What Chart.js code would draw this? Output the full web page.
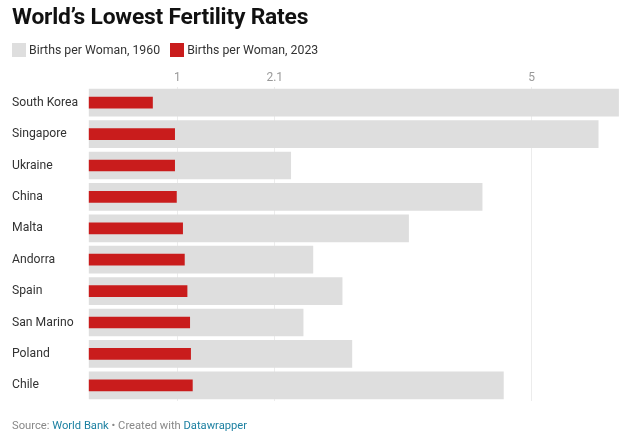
<!DOCTYPE html>
<html>
<head>
<meta charset="utf-8">
<script src="https://cdn.jsdelivr.net/npm/chart.js@4"></script>
<style>
  html, body { margin: 0; padding: 0; background: #fff; }
  body { width: 640px; height: 438px; position: relative; font-family: Roboto, "Noto Sans", sans-serif; overflow: hidden; }
  #title { position: absolute; left: 12px; top: 3px; font-size: 22.8px; font-weight: 700; color: #111; letter-spacing: -0.2px; }
  #legend { position: absolute; left: 12px; top: 43px; font-size: 12.3px; color: #333; }
  #legend span.sw { display: inline-block; width: 14px; height: 14px; vertical-align: -3px; margin-right: 3px; }
  #legend span.item { margin-right: 7px; }
  #footer { position: absolute; left: 12px; top: 419px; font-size: 11.2px; color: #888; }
  #footer a { color: #1d81a2; text-decoration: none; }
  #wrap { position: absolute; left: 0; top: 0; width: 640px; height: 438px; }
</style>
</head>
<body>
<div id="wrap"><canvas id="myChart"></canvas></div>
<div id="title">World’s Lowest Fertility Rates</div>
<div id="legend">
  <span class="item"><span class="sw" style="background:#dedede"></span>Births per Woman, 1960</span>
  <span class="item"><span class="sw" style="background:#c91c1c"></span>Births per Woman, 2023</span>
</div>
<div id="footer">Source: <a>World Bank</a> • Created with <a>Datawrapper</a></div>
<script>
const greyColor = "#dedede";
const redColor = "#c91c1c";

const countries = ["South Korea", "Singapore", "Ukraine", "China", "Malta", "Andorra", "Spain", "San Marino", "Poland", "Chile"];
const births1960 = [5.98, 5.75, 2.28, 4.44, 3.61, 2.53, 2.86, 2.42, 2.97, 4.68];
const births2023 = [0.72, 0.97, 0.97, 0.99, 1.06, 1.08, 1.11, 1.14, 1.15, 1.17];
const tickValues = [1, 2.1, 5];

var ctx = document.getElementById("myChart");

var chart = new Chart(ctx, {
  type: "bar",
  data: {
    labels: countries,
    datasets: [
      {
        label: "Births per Woman, 2023",
        data: births2023,
        backgroundColor: redColor,
        barThickness: 11,
        order: 1,
      },
      {
        label: "Births per Woman, 1960",
        data: births1960,
        backgroundColor: greyColor,
        barThickness: 27,
        order: 2,
      },
    ],
  },
  options: {
    indexAxis: "y",
    responsive: true,
    maintainAspectRatio: false,
    animation: false,
    layout: { padding: { left: 12, right: 10.8, top: 67, bottom: 37 } },
    plugins: { legend: { display: false }, tooltip: { enabled: false } },
    scales: {
      x: {
        position: "top",
        min: 0,
        max: 6.1,
        afterBuildTicks: function (scale) {
          scale.ticks = tickValues.map(function (v) { return { value: v }; });
        },
        afterFit: function (scale) { scale.height = 20; },
        ticks: {
          color: "#999",
          font: { family: "Roboto", size: 12 },
          padding: 2,
          callback: function (v) { return String(v); },
        },
        grid: { color: "#ececec", drawTicks: false },
        border: { display: false },
      },
      y: {
        afterFit: function (scale) { scale.width = 76.7; },
        ticks: {
          crossAlign: "far",
          color: "#333",
          font: { family: "Roboto", size: 12.2 },
        },
        grid: { display: false },
        border: { display: false },
      },
    },
    datasets: { bar: { grouped: false } },
  },
});
</script>
</body>
</html>
